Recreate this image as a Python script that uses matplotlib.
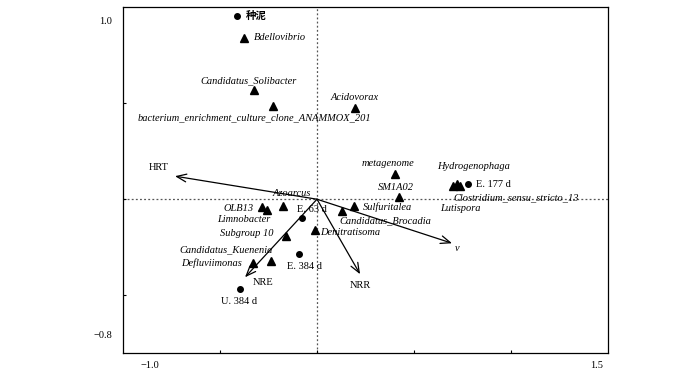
import matplotlib
matplotlib.use('Agg')
import matplotlib.pyplot as plt

plt.rcParams['font.family'] = ['Liberation Serif', 'Noto Sans CJK SC']

# species scores (triangles)
species = ['Bdellovibrio', 'Candidatus_Solibacter', 'bacterium_enrichment_culture_clone_ANAMMOX_201',
           'Acidovorax', 'metagenome', 'SM1A02', 'Hydrogenophaga', 'Clostridium_sensu_stricto_13',
           'Lutispora', 'Sulfuritalea', 'Candidatus_Brocadia', 'Denitratisoma', 'Azoarcus',
           'OLB13', 'Limnobacter', 'Subgroup 10', 'Candidatus_Kuenenia', 'Defluviimonas']
sp_x = [-0.376, -0.325, -0.227, 0.196, 0.402, 0.423, 0.722, 0.737, 0.701, 0.191, 0.129,
        -0.010, -0.175, -0.284, -0.258, -0.160, -0.237, -0.330]
sp_y = [0.839, 0.568, 0.484, 0.474, 0.130, 0.010, 0.078, 0.068, 0.068, -0.036, -0.063,
        -0.161, -0.036, -0.042, -0.057, -0.193, -0.323, -0.333]

# sample scores (circles)
samples = ['种泥', 'E. 177 d', 'E. 63 d', 'E. 384 d', 'U. 384 d']
sa_x = [-0.412, 0.778, -0.077, -0.093, -0.397]
sa_y = [0.953, 0.078, -0.099, -0.286, -0.469]

# environmental arrows
env = ['HRT', 'v', 'NRR', 'NRE']
env_x = [-0.732, 0.696, 0.222, -0.371]
env_y = [0.120, -0.229, -0.390, -0.406]

# label placement (offset in points, ha)
sp_off = [(7, 0, 'left'), (-4, 7, 'center'), (-13, -8, 'center'), (0, 8, 'center'),
          (-5, 8, 'center'), (-2, 7, 'center'), (12, 13, 'center'), (-5, -8, 'left'),
          (-9, -16, 'left'), (6, -1, 'left'), (-2, -7, 'left'), (4, -2, 'left'),
          (6, 9, 'center'), (-6, -1, 'right'), (-17, -7, 'center'), (-9, 2, 'right'),
          (1, 8, 'right'), (-8, 0, 'right')]
sa_off = [(6, 0, 'left'), (6, 0, 'left'), (7, 6, 'center'), (4, -9, 'center'), (-1, -9, 'center')]
env_off = [(-12, 6), (4, -4), (0, -8), (13, -4)]

fig = plt.figure(figsize=(7, 3.79), dpi=100)
ax = fig.add_axes([0.1757, 0.0686, 0.6929, 0.9129])
ax.set_xlim(-1.0, 1.5)
ax.set_ylim(-0.8, 1.0)

ax.axhline(0, color='#555555', lw=0.9, ls=(0, (1.5, 1.8)), zorder=1)
ax.axvline(0, color='#555555', lw=0.9, ls=(0, (1.5, 1.8)), zorder=1)

for i in range(len(env)):
    ax.annotate('', xy=(env_x[i], env_y[i]), xytext=(0, 0),
                arrowprops=dict(arrowstyle='->,head_length=0.7,head_width=0.28', color='black', lw=0.9,
                                shrinkA=0, shrinkB=0), zorder=3)
    dx, dy = env_off[i]
    ax.annotate(env[i], (env_x[i], env_y[i]), xytext=(dx, dy), textcoords='offset points',
                ha='center', va='center', fontsize=7.5, style='italic' if env[i] == 'v' else 'normal')

ax.plot(sp_x, sp_y, '^', color='black', ms=5.5, ls='none', zorder=4)
ax.plot(sa_x, sa_y, 'o', color='black', ms=4, ls='none', zorder=4)

for i in range(len(species)):
    dx, dy, ha = sp_off[i]
    ax.annotate(species[i], (sp_x[i], sp_y[i]), xytext=(dx, dy), textcoords='offset points',
                ha=ha, va='center', fontsize=7.5, style='italic')

for i in range(len(samples)):
    dx, dy, ha = sa_off[i]
    if samples[i] == '种泥':
        ax.annotate(samples[i], (sa_x[i], sa_y[i]), xytext=(dx, dy), textcoords='offset points',
                    ha=ha, va='center', fontsize=7.5, fontweight='bold', family='Noto Sans CJK SC')
    else:
        ax.annotate(samples[i], (sa_x[i], sa_y[i]), xytext=(dx, dy), textcoords='offset points',
                    ha=ha, va='center', fontsize=7.5)

ax.set_xticks([-0.5, 0, 0.5, 1.0])
ax.set_yticks([-0.5, 0, 0.5])
ax.tick_params(direction='in', length=2.5, width=0.8, labelbottom=False, labelleft=False)
for s in ax.spines.values():
    s.set_linewidth(0.9)

# corner labels as in the original
fig.text(112 / 700, 1 - 21 / 379, '1.0', ha='right', va='center', fontsize=7.5)
fig.text(112 / 700, 1 - 336 / 379, '−0.8', ha='right', va='center', fontsize=7.5)
fig.text(150 / 700, 1 - 366 / 379, '−1.0', ha='center', va='center', fontsize=7.5)
fig.text(597 / 700, 1 - 366 / 379, '1.5', ha='center', va='center', fontsize=7.5)

fig.savefig('out.png', dpi=100)
